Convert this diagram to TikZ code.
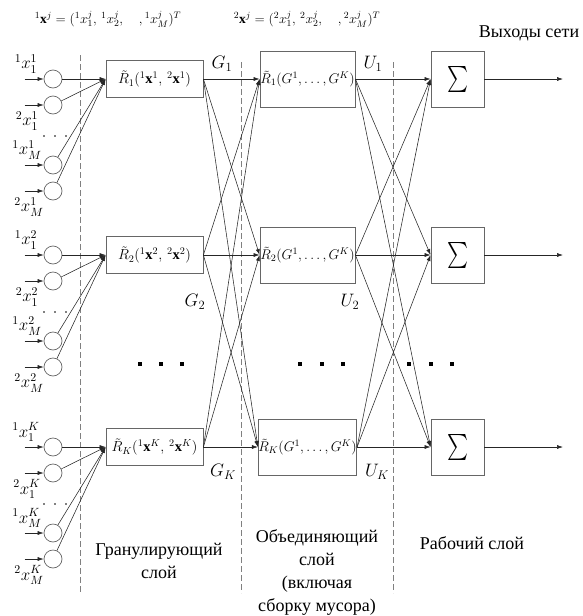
\RequirePackage{fix-cm}
\documentclass[tikz,border=0pt]{standalone}
\usepackage{fontspec}
\setmainfont{Liberation Serif}
\usetikzlibrary{arrows.meta,calc}
\begin{document}
\begin{tikzpicture}[x=1pt,y=-1pt,
  arr/.style={-{Latex[length=6pt,width=4pt]}, line width=0.55pt, draw=black!85},
  boxline/.style={draw=black!60, line width=0.8pt, inner sep=0pt},
  lbox/.style={boxline, minimum width=97pt, minimum height=37pt, font=\fontsize{14.5}{17}\selectfont},
  mbox/.style={boxline, minimum width=95pt, minimum height=56pt, font=\fontsize{14}{17}\selectfont},
  sbox/.style={boxline, minimum width=53pt, minimum height=56pt},
  neuron/.style={circle, draw=black!60, line width=0.7pt, minimum size=18pt, inner sep=0pt},
  sep/.style={draw=black!50, dash pattern=on 6pt off 3pt, line width=0.7pt},
  xlab/.style={inner sep=0pt, font=\fontsize{17}{20}\selectfont},
  glab/.style={inner sep=0pt, font=\fontsize{18}{21}\selectfont},
  captxt/.style={inner sep=0pt, align=center, font=\fontsize{18}{23}\selectfont},
  formula/.style={inner sep=0pt, font=\fontsize{13.5}{15}\selectfont},
  bigdot/.style={fill=black, rectangle, minimum size=4pt, inner sep=0pt},
  smalldot/.style={fill=black, circle, minimum size=1.8pt, inner sep=0pt}
]
\useasboundingbox (0,0) rectangle (582,616);

% separators
\draw[sep] (80,55) -- (80,593);
\draw[sep] (241,62) -- (241,593);
\draw[sep] (393,62) -- (393,593);

% top formulas and output title
\node[formula] (f1) at (108,19) {${}^1\mathbf{x}^j = ({}^1x_1^j,\,{}^1x_2^j,\quad,{}^1x_M^j)^T$};
\node[formula] (f2) at (307,19) {${}^2\mathbf{x}^j = ({}^2x_1^j,\,{}^2x_2^j,\quad,{}^2x_M^j)^T$};
\node[captxt] (outtitle) at (529,33) {Выходы сети};

\foreach \r/\yy/\s in {1/79/1, 2/255/2, 3/447/K} {
  \node[lbox] (L\r) at (154.5,\yy) {$\tilde R_{\s}({}^1\mathbf{x}^{\s},\,{}^2\mathbf{x}^{\s})$};
  \node[mbox] (M\r) at (307.5,\yy) {$\tilde R_{\s}(G^1,\ldots,G^K)$};
  \node[sbox] (S\r) at (457.5,\yy) {\resizebox*{21pt}{26pt}{$\sum$}};
  \coordinate (o\r) at (563,\yy);
  \draw[arr] (S\r.east) -- (o\r);
  % neurons
  \node[neuron] (c\r-a) at (53,\yy) {};
  \node[neuron] (c\r-b) at (53,\yy+26) {};
  \node[neuron] (c\r-c) at (53,\yy+86) {};
  \node[neuron] (c\r-d) at (53,\yy+112) {};
  \foreach \k in {a,b,c,d} {
    \coordinate (i\r-\k) at ($(c\r-\k.west)+(-19,0)$);
  }
  \foreach \k in {a,b,c,d} {
    \draw[arr] (i\r-\k) -- (c\r-\k.west);
    \draw[arr] (c\r-\k) -- (L\r.west);
  }
  % input labels
  \node[xlab] (x\r-a) at (26,\yy-15) {${}^{1}x_{1}^{\s}$};
  \node[xlab] (x\r-b) at (27,\yy+42) {${}^{2}x_{1}^{\s}$};
  \node[xlab] (x\r-c) at (27,\yy+71) {${}^{1}x_{M}^{\s}$};
  \node[xlab] (x\r-d) at (29,\yy+128) {${}^{2}x_{M}^{\s}$};
  \node[smalldot] (sd\r-1) at (44,\yy+57) {};
  \node[smalldot] (sd\r-2) at (55,\yy+57) {};
  \node[smalldot] (sd\r-3) at (66,\yy+57) {};
}

% full connections
\foreach \i in {1,2,3} {
  \foreach \j in {1,2,3} {
    \draw[arr] (L\i.east) -- (M\j.west);
    \draw[arr] (M\i.east) -- (S\j.west);
  }
}

% G and U labels
\node[glab] (G1) at (222,64) {$G_1$};
\node[glab] (G2) at (195,302) {$G_2$};
\node[glab] (GK) at (223,472) {$G_K$};
\node[glab] (U1) at (373,64) {$U_1$};
\node[glab] (U2) at (350,302) {$U_2$};
\node[glab] (UK) at (377,472) {$U_K$};

% big dots
\foreach \n/\xx in {1/140,2/161,3/182,4/300,5/322,6/343,7/409,8/431,9/452} {
  \node[bigdot] (bd\n) at (\xx,364) {};
}

% captions
\node[captxt] (capG) at (159,561) {Гранулирующий\\слой};
\node[captxt] (capO) at (317,572) {Объединяющий\\слой\\(включая\\сборку мусора)};
\node[captxt] (capW) at (472,543) {Рабочий слой};
\end{tikzpicture}
\end{document}
